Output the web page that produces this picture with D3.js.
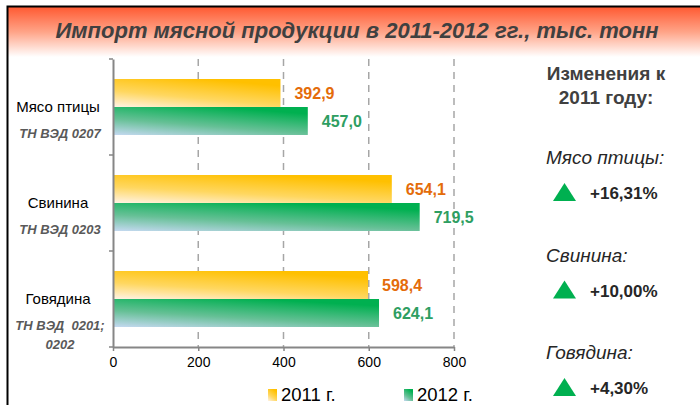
<!DOCTYPE html>
<html>
<head>
<meta charset="utf-8">
<script src="https://cdn.jsdelivr.net/npm/d3@7"></script>
<style>
	body { margin: 0; background: #fff; }
	svg { display: block; font-family: "Liberation Sans", Arial, sans-serif; }
</style>
</head>
<body>
<svg width="700" height="405"></svg>
<script>
/* DATA */
var categories = ["Мясо птицы", "Свинина", "Говядина"];
var codes = [["ТН ВЭД 0207"], ["ТН ВЭД 0203"], ["ТН ВЭД  0201;", "0202"]];
var years = ["2011 г.", "2012 г."];
var values2011 = [392.9, 654.1, 598.4];
var values2012 = [457.0, 719.5, 624.1];
var changes = ["+16,31%", "+10,00%", "+4,30%"];
var xTicks = [0, 200, 400, 600, 800];

var svg = d3.select("svg");
var defs = svg.append("defs");

/* GRADIENTS */
var head = defs.append("linearGradient").attr("id", "head")
	.attr("x1", 0).attr("y1", 0).attr("x2", 0).attr("y2", 1);
head.append("stop").attr("offset", 0).attr("stop-color", "#ff5a32");
head.append("stop").attr("offset", 0.5).attr("stop-color", "#ffa488");
head.append("stop").attr("offset", 1).attr("stop-color", "#ffffff");

function barGrad(id, light, mid, dark) {
	var g = defs.append("linearGradient").attr("id", id)
		.attr("x1", 0).attr("y1", 1).attr("x2", 0.55).attr("y2", 0);
	g.append("stop").attr("offset", 0).attr("stop-color", light);
	g.append("stop").attr("offset", 0.45).attr("stop-color", mid);
	g.append("stop").attr("offset", 1).attr("stop-color", dark);
}
barGrad("g2011", "#fff3e6", "#ffd760", "#ffc000");
barGrad("g2012", "#c5d9f1", "#66c096", "#00b050");

/* FRAME + HEADER */
svg.append("rect").attr("x", 8).attr("y", 7).attr("width", 692).attr("height", 50)
	.attr("fill", "url(#head)");
svg.append("path").attr("d", "M7.5,405 V6.5 H700")
	.attr("fill", "none").attr("stroke", "#000").attr("stroke-width", 2);

svg.append("text").attr("x", 357).attr("y", 38)
	.attr("text-anchor", "middle")
	.attr("font-size", 22).attr("font-weight", "bold").attr("font-style", "italic")
	.attr("fill", "#404040")
	.text("Импорт мясной продукции в 2011-2012 гг., тыс. тонн");

/* SCALES */
var x = d3.scaleLinear().domain([0, 800]).range([113, 454]);
var y = d3.scaleBand().domain(categories).range([59, 347]);
var ySeries = d3.scaleBand().domain(years).range([20, 76]);

/* GRID */
svg.append("g").selectAll("line").data(xTicks.slice(1)).enter().append("line")
	.attr("x1", function (d) { return x(d); })
	.attr("x2", function (d) { return x(d); })
	.attr("y1", 59).attr("y2", 347)
	.attr("stroke", "#a6a6a6").attr("stroke-width", 1.5)
	.attr("stroke-dasharray", "7,6");

/* BARS */
var series = [
	{ name: years[0], values: values2011, fill: "url(#g2011)", color: "#e46c0a" },
	{ name: years[1], values: values2012, fill: "url(#g2012)", color: "#2e9e62" }
];

series.forEach(function (s) {
	var g = svg.append("g");
	g.selectAll("rect").data(s.values).enter().append("rect")
		.attr("x", x(0))
		.attr("y", function (d, i) { return y(categories[i]) + ySeries(s.name); })
		.attr("width", function (d) { return x(d) - x(0); })
		.attr("height", ySeries.bandwidth())
		.attr("fill", s.fill);
	g.selectAll("text").data(s.values).enter().append("text")
		.attr("x", function (d) { return x(d) + 14; })
		.attr("y", function (d, i) { return y(categories[i]) + ySeries(s.name) + ySeries.bandwidth() / 2 + 6; })
		.attr("font-size", 16).attr("font-weight", "bold")
		.attr("fill", s.color)
		.text(function (d) { return d3.format(".1f")(d).replace(".", ","); });
});

/* AXES */
var xAxis = svg.append("g").attr("transform", "translate(0,347)")
	.call(d3.axisBottom(x).tickValues(xTicks).tickSize(4).tickSizeOuter(0).tickPadding(6));
var yAxis = svg.append("g").attr("transform", "translate(113,0)")
	.call(d3.axisLeft(y).tickValues([]).tickSizeOuter(0));
yAxis.selectAll(".cat-tick").data(categories.concat([null])).enter().append("line")
	.attr("x1", -4).attr("x2", 0)
	.attr("y1", function (d, i) { return i < categories.length ? y(d) : 347; })
	.attr("y2", function (d, i) { return i < categories.length ? y(d) : 347; })
	.attr("stroke", "#868686").attr("stroke-width", 1.5);
[xAxis, yAxis].forEach(function (a) {
	a.select(".domain").attr("stroke", "#868686").attr("stroke-width", 2);
	a.selectAll(".tick line").attr("stroke", "#868686").attr("stroke-width", 1.5);
});
xAxis.selectAll(".tick text")
	.attr("font-size", 14).attr("fill", "#000")
	.attr("font-family", "Liberation Sans, Arial, sans-serif");

/* CATEGORY LABELS */
var cat = svg.append("g").selectAll("g").data(categories).enter().append("g");
cat.append("text")
	.attr("x", 58)
	.attr("y", function (d) { return y(d) + 53; })
	.attr("text-anchor", "middle")
	.attr("font-size", 15).attr("fill", "#000")
	.text(function (d) { return d; });
cat.each(function (d, i) {
	d3.select(this).selectAll(".code").data(codes[i]).enter().append("text")
		.attr("x", 60)
		.attr("y", function (c, j) { return y(d) + 79 + j * 19; })
		.attr("text-anchor", "middle")
		.attr("font-size", 13).attr("font-weight", "bold").attr("font-style", "italic")
		.attr("fill", "#595959")
		.attr("xml:space", "preserve")
		.text(function (c) { return c; });
});

/* LEGEND */
var legendX = [268, 404];
var legend = svg.append("g").selectAll("g").data(series).enter().append("g")
	.attr("transform", function (d, i) { return "translate(" + legendX[i] + ",389)"; });
legend.append("rect").attr("width", 9).attr("height", 12)
	.attr("fill", function (d) { return d.fill; });
legend.append("text").attr("x", 13).attr("y", 12)
	.attr("font-size", 18.5).attr("fill", "#000")
	.text(function (d) { return d.name; });

/* CHANGES PANEL */
var panel = svg.append("g");
panel.append("text").attr("x", 606).attr("y", 80)
	.attr("text-anchor", "middle").attr("font-size", 19).attr("font-weight", "bold")
	.attr("fill", "#404040").text("Изменения к");
panel.append("text").attr("x", 606).attr("y", 104)
	.attr("text-anchor", "middle").attr("font-size", 19).attr("font-weight", "bold")
	.attr("fill", "#404040").text("2011 году:");

var rowY = d3.scalePoint().domain(categories).range([157, 352]);
var row = panel.selectAll(".row").data(categories).enter().append("g")
	.attr("transform", function (d) { return "translate(0," + rowY(d) + ")"; });
row.append("text").attr("x", 546).attr("y", 7)
	.attr("font-size", 19).attr("font-style", "italic").attr("fill", "#262626")
	.text(function (d) { return d + ":"; });
row.append("path").attr("d", "M553,44 L564.5,26 L576,44 Z").attr("fill", "#00b050");
row.append("text").attr("x", 590).attr("y", 42)
	.attr("font-size", 17).attr("font-weight", "bold").attr("font-style", "normal")
	.attr("fill", "#262626")
	.text(function (d, i) { return changes[i]; });
</script>
</body>
</html>
